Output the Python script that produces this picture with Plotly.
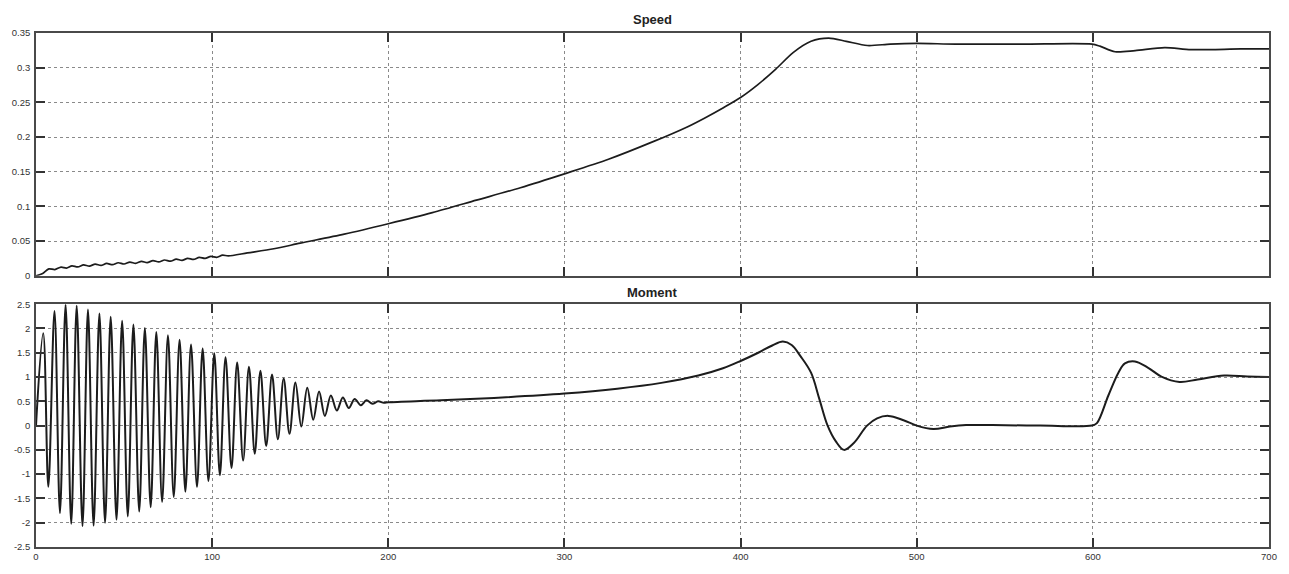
import plotly.graph_objects as go

# ---------------- data ----------------
# Moment: oscillating start-up phase (peaks / troughs)
moment_osc_t = [0, 4.1, 7.0, 10.5, 13.6, 16.8, 20.0, 23.1, 26.4, 29.5, 32.7, 36.0, 39.2,
                42.4, 45.7, 48.9, 52.1, 55.3, 58.6, 61.8, 65.1, 68.3, 71.6, 74.9, 78.2,
                81.5, 84.8, 88.0, 91.4, 94.6, 97.9, 101.2, 104.4, 107.6, 111.0, 114.2,
                117.6, 120.9, 124.2, 127.4, 130.7, 134.0, 137.3, 140.6, 143.9, 147.3,
                150.6, 154.0, 157.4, 160.7, 164.0, 167.4, 170.8, 174.2, 177.6, 180.9,
                184.4, 187.6, 191.0, 194.2, 197.5]
moment_osc_v = [0.0, 1.90, -1.26, 2.36, -1.80, 2.49, -2.02, 2.47, -2.07, 2.39, -2.06, 2.31, -2.00,
                2.24, -1.94, 2.16, -1.87, 2.08, -1.77, 2.01, -1.68, 1.93, -1.57, 1.86, -1.47,
                1.77, -1.36, 1.67, -1.26, 1.59, -1.14, 1.49, -1.02, 1.41, -0.87, 1.30,
                -0.72, 1.21, -0.58, 1.13, -0.42, 1.05, -0.28, 0.97, -0.17, 0.89,
                -0.02, 0.78, 0.12, 0.70, 0.20, 0.62, 0.31, 0.58, 0.36, 0.55,
                0.42, 0.52, 0.45, 0.50, 0.47]
# Moment: remainder of the run
moment_t = [200, 230, 260, 300, 330, 355, 376, 390, 400, 410, 418, 424, 429, 434, 440,
            444.7, 449.3, 454, 458.7, 464.3, 471.8, 477.5, 484, 492.5, 500, 509.4, 518.8,
            528, 543, 570, 599.5, 602.3, 608.8, 614.5, 618.2, 623.9, 631.4, 638.9, 649.2,
            659.5, 674.5, 687.7, 700]
moment_v = [0.48, 0.52, 0.57, 0.66, 0.76, 0.88, 1.03, 1.18, 1.33, 1.50, 1.65, 1.73, 1.66, 1.43, 1.09,
            0.55, 0.01, -0.32, -0.50, -0.36, 0.00, 0.15, 0.20, 0.11, 0.00, -0.07, -0.02,
            0.01, 0.01, 0.00, 0.00, 0.05, 0.62, 1.09, 1.28, 1.32, 1.19, 1.01, 0.90,
            0.95, 1.03, 1.01, 1.00]

# Speed: small ripple at the start, then smooth rise
speed_t = [0, 3.8, 7.3, 10.7, 14.2, 17.3, 20.4, 23.7, 27.0, 30.3, 33.6, 36.9, 40.1, 43.4,
           46.7, 50.0, 53.3, 56.6, 59.9, 63.1, 66.4, 69.7, 73.0, 76.3, 79.6, 82.9, 86.1,
           89.4, 92.7, 96.0, 99.3, 102.6, 105.9, 109.2, 120, 135, 150, 175, 200, 225, 250,
           275, 300, 325, 350, 370, 380, 390, 400, 410, 420, 430, 440, 450, 460, 472, 485,
           500, 522, 560, 599.5, 604, 612.6, 624, 640.8, 655.8, 684, 700]
speed_v = [0.0, 0.0035, 0.0100, 0.0090, 0.0125, 0.0112, 0.0143, 0.0128, 0.0157, 0.0140, 0.0168,
           0.0150, 0.0178, 0.0160, 0.0188, 0.0170, 0.0198, 0.0180, 0.0208, 0.0190, 0.0218,
           0.0200, 0.0228, 0.0211, 0.0239, 0.0223, 0.0251, 0.0236, 0.0265, 0.0251, 0.0280,
           0.0267, 0.0297, 0.0287, 0.033, 0.039, 0.047, 0.060, 0.075, 0.091, 0.109, 0.127,
           0.147, 0.168, 0.193, 0.215, 0.228, 0.242, 0.257, 0.276, 0.298, 0.322, 0.338, 0.3425,
           0.338, 0.332, 0.334, 0.335, 0.334, 0.334, 0.334, 0.331, 0.323, 0.3246, 0.329,
           0.326, 0.327, 0.327]

x_ticks = [0, 100, 200, 300, 400, 500, 600, 700]
speed_ticks = [0, 0.05, 0.1, 0.15, 0.2, 0.25, 0.3, 0.35]
speed_ticktext = ["0", "0.05", "0.1", "0.15", "0.2", "0.25", "0.3", "0.35"]
moment_ticks = [-2.5, -2, -1.5, -1, -0.5, 0, 0.5, 1, 1.5, 2, 2.5]
moment_ticktext = ["-2.5", "-2", "-1.5", "-1", "-0.5", "0", "0.5", "1", "1.5", "2", "2.5"]

# ---------------- figure ----------------
W, H = 1289, 574
ML, MR, MT, MB = 32, 13, 33, 16
ph = H - MT - MB

def ydom(top_px, bot_px):
    return [(H - MB - bot_px) / ph, (H - MB - top_px) / ph]

fig = go.Figure()
fig.add_trace(go.Scatter(x=speed_t, y=speed_v, mode="lines",
                         line=dict(shape="spline", smoothing=0.8, color="#1c1c1c", width=1.7),
                         xaxis="x", yaxis="y", showlegend=False, hoverinfo="skip"))
fig.add_trace(go.Scatter(x=moment_osc_t + moment_t, y=moment_osc_v + moment_v, mode="lines",
                         line=dict(shape="spline", smoothing=1.0, color="#1c1c1c", width=2.0),
                         xaxis="x2", yaxis="y2", showlegend=False, hoverinfo="skip"))

axis_common = dict(
    showline=True, linecolor="#4a4a4a", linewidth=1.6, mirror="allticks",
    ticks="inside", ticklen=9, tickwidth=1.6, tickcolor="#333",
    showgrid=True, gridcolor="#8a8a8a", gridwidth=1, griddash="dot",
    zeroline=False, tickfont=dict(family="Liberation Sans, Arial", size=9.5, color="#333"),
    fixedrange=True,
)

fig.update_layout(
    width=W, height=H,
    margin=dict(l=ML, r=MR, t=MT, b=MB),
    paper_bgcolor="white", plot_bgcolor="white",
    xaxis=dict(domain=[0, 1], range=[0, 700], tickvals=x_ticks, showticklabels=False,
               anchor="y", **axis_common),
    yaxis=dict(domain=ydom(33, 281), range=[0, 0.35], tickvals=speed_ticks, ticktext=speed_ticktext,
               anchor="x", ticklabelstandoff=2, **axis_common),
    xaxis2=dict(domain=[0, 1], range=[0, 700], tickvals=x_ticks, ticktext=[str(v) for v in x_ticks],
                anchor="y2", ticklabelstandoff=0, **axis_common),
    yaxis2=dict(domain=ydom(310, 558), range=[-2.5, 2.5], tickvals=moment_ticks, ticktext=moment_ticktext,
                anchor="x2", ticklabelstandoff=2, **axis_common),
    annotations=[
        dict(text="<b>Speed</b>", xref="paper", yref="paper", x=0.5, y=ydom(33, 281)[1],
             yanchor="bottom", yshift=4, showarrow=False,
             font=dict(family="Liberation Sans, Arial", size=13, color="#222")),
        dict(text="<b>Moment</b>", xref="paper", yref="paper", x=0.5, y=ydom(310, 558)[1],
             yanchor="bottom", yshift=2, showarrow=False,
             font=dict(family="Liberation Sans, Arial", size=13, color="#222")),
    ],
)

fig.write_html("out.html")
